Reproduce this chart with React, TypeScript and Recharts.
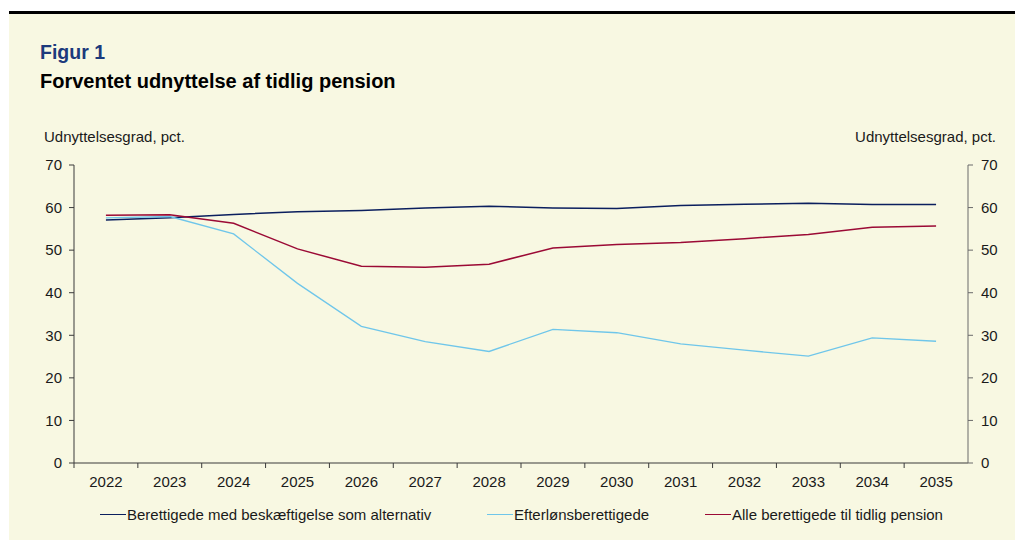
import React from 'react'
import { LineChart, Line, XAxis, YAxis } from 'recharts'

// Forventet udnyttelse af tidlig pension, 2022-2035

const years = ['2022', '2023', '2024', '2025', '2026', '2027', '2028', '2029', '2030', '2031', '2032', '2033', '2034', '2035']
const beskaeftigelse = [57.1, 57.6, 58.4, 59.0, 59.3, 59.9, 60.3, 59.9, 59.8, 60.5, 60.8, 61.0, 60.7, 60.7]
const efterloen = [57.6, 57.9, 53.8, 42.2, 32.1, 28.5, 26.2, 31.4, 30.6, 28.0, 26.5, 25.1, 29.4, 28.6]
const alle = [58.2, 58.3, 56.3, 50.3, 46.2, 46.0, 46.7, 50.5, 51.3, 51.8, 52.7, 53.7, 55.4, 55.7]
const yTicks = [0, 10, 20, 30, 40, 50, 60, 70]

const FONT = 'Arial, "Liberation Sans", sans-serif'
const NAVY = '#0b1f5e'
const LIGHT = '#6fc6ea'
const RED = '#9b0a35'
const AXIS = '#3a3a3a'

const data = years.map((year, i) => ({
  year,
  besk: beskaeftigelse[i],
  efter: efterloen[i],
  alle: alle[i],
}))

const legendItems = [
  { label: 'Berettigede med beskæftigelse som alternativ', color: NAVY, left: 100 },
  { label: 'Efterlønsberettigede', color: LIGHT, left: 487 },
  { label: 'Alle berettigede til tidlig pension', color: RED, left: 705 },
]

// label centred in the band, tick mark on the band's left edge
function YearTick(props: any) {
  const { x, y, payload, width, visibleTicksCount } = props
  const half = width / visibleTicksCount / 2
  const axisY = y - 13
  return (
    <g>
      <line x1={x - half} x2={x - half} y1={axisY} y2={axisY + 5} stroke={AXIS} strokeWidth={1} />
      <text x={x} y={y} dy="0.71em" textAnchor="middle" fill="#1a1a1a" fontSize={15} fontFamily={FONT}>
        {payload.value}
      </text>
    </g>
  )
}

export default function App() {
  return (
    <div style={{ position: 'absolute', left: 0, top: 0, width: 1015, height: 540, background: '#fff', fontFamily: FONT }}>
      <div style={{ position: 'absolute', left: 9, top: 11, width: 1006, height: 3, background: '#000' }} />
      <div style={{ position: 'absolute', left: 9, top: 14, width: 1006, height: 526, background: '#f8f8e2' }} />

      <div style={{ position: 'absolute', left: 40, top: 41, fontSize: 19.5, fontWeight: 'bold', color: '#1c3a7c' }}>Figur 1</div>
      <div style={{ position: 'absolute', left: 40, top: 70, fontSize: 20, fontWeight: 'bold', color: '#000' }}>
        Forventet udnyttelse af tidlig pension
      </div>
      <div style={{ position: 'absolute', left: 44, top: 128, fontSize: 15, color: '#1a1a1a' }}>Udnyttelsesgrad, pct.</div>
      <div style={{ position: 'absolute', right: 1015 - 996, top: 128, fontSize: 15, color: '#1a1a1a' }}>Udnyttelsesgrad, pct.</div>

      <div style={{ position: 'absolute', left: 0, top: 0 }}>
        <LineChart width={1015} height={540} data={data} margin={{ top: 165, left: 44, right: 7, bottom: 47 }}>
          <XAxis
            dataKey="year"
            scale="band"
            height={30}
            tickSize={5}
            tickMargin={8}
            tickLine={{ stroke: 'none' }}
            axisLine={{ stroke: AXIS }}
            tick={<YearTick />}
            interval={0}
          />
          <YAxis
            yAxisId="left"
            width={30}
            domain={[0, 70]}
            ticks={yTicks}
            tickSize={5}
            tickMargin={7}
            axisLine={{ stroke: AXIS }}
            tickLine={{ stroke: AXIS }}
            tick={{ fill: '#1a1a1a', fontSize: 15, fontFamily: FONT }}
          />
          <YAxis
            yAxisId="right"
            orientation="right"
            width={40}
            domain={[0, 70]}
            ticks={yTicks}
            tickSize={5}
            tickMargin={8}
            axisLine={{ stroke: '#6a6a6a' }}
            tickLine={{ stroke: '#6a6a6a' }}
            tick={{ fill: '#1a1a1a', fontSize: 15, fontFamily: FONT }}
          />
          <Line yAxisId="left" type="linear" dataKey="besk" stroke={NAVY} strokeWidth={1.5} dot={false} isAnimationActive={false} />
          <Line yAxisId="left" type="linear" dataKey="efter" stroke={LIGHT} strokeWidth={1.3} dot={false} isAnimationActive={false} />
          {/* same 0-70 scale on both sides, so this series can carry the right axis */}
          <Line yAxisId="right" type="linear" dataKey="alle" stroke={RED} strokeWidth={1.5} dot={false} isAnimationActive={false} />
        </LineChart>
      </div>

      {legendItems.map((item) => (
        <div
          key={item.label}
          style={{ position: 'absolute', left: item.left, top: 506, display: 'flex', alignItems: 'center', fontSize: 15, color: '#1a1a1a', whiteSpace: 'nowrap' }}
        >
          <span style={{ display: 'inline-block', width: 26, height: 1.5, background: item.color, marginRight: 1 }} />
          {item.label}
        </div>
      ))}
    </div>
  )
}
